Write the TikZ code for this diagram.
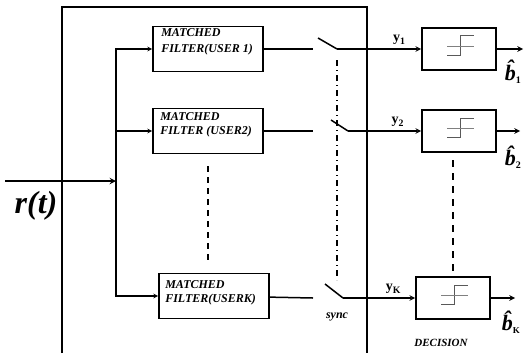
\documentclass[tikz,border=0pt]{standalone}
\usepackage{fontspec}
\setmainfont{Liberation Serif}
\begin{document}
\begin{tikzpicture}[x=1pt,y=-1pt,>=stealth,
  mf/.style={draw, line width=1.8pt, minimum width=110pt, minimum height=45pt, inner sep=0pt},
  mftxt/.style={anchor=north west, align=left, inner sep=0pt, font=\fontsize{12}{13.5}\selectfont\bfseries\itshape},
  dec/.style={draw, line width=1.8pt, minimum width=74pt, minimum height=42pt, inner sep=0pt,
    path picture={
      \draw[gray!70!black, line width=1pt] ([shift={(-12pt,-6pt)}]path picture bounding box.center) -- ++(13pt,0) -- ++(0,19pt) -- ++(14pt,0);
      \draw[gray, line width=1pt] ([shift={(-12pt,3pt)}]path picture bounding box.center) -- ++(27pt,0);}},
  wire/.style={line width=1.5pt},
  ylab/.style={font=\fontsize{14}{14}\selectfont\bfseries},
  bhat/.style={font=\fontsize{22}{22}\selectfont\bfseries\itshape}]
\useasboundingbox (0,0) rectangle (526,353);
% frame
\draw[line width=1.6pt] (62,353) |- (367,7) -- (367,353);
% input
\coordinate (in) at (5,181);
\coordinate (bus) at (116,181);
\node[font=\fontsize{32}{32}\selectfont\bfseries\itshape] (rt) at (36,206) {r(t)};
\draw[->, line width=1.8pt] (in) -- (bus);
% matched filters
\node[mf, label={[mftxt, xshift=9pt, yshift=-3pt]north west:{MATCHED\\[2pt]FILTER(USER 1)}}] (mf1) at (208,49) {};
\node[mf, label={[mftxt, xshift=8pt, yshift=-5pt]north west:{MATCHED\\FILTER (USER2)}}] (mf2) at (208,131) {};
\node[mf, label={[mftxt, xshift=7pt, yshift=-8pt]north west:{MATCHED\\FILTER(USERK)}}] (mfk) at (214,296) {};
\draw[->, line width=1.1pt] (bus) |- (mf1);
\draw[->, line width=1.1pt] (bus) |- (mf2);
\draw[->, line width=1.1pt] (bus) |- (mfk);
\draw[dashed, line width=1.2pt, dash pattern=on 6pt off 5pt] (208,166) -- (208,262);
% decision devices
\node[dec] (dec1) at (459,49) {};
\node[dec] (dec2) at (459,131) {};
\node[dec] (deck) at (453,298) {};
\draw[dashed, line width=1.6pt, dash pattern=on 7pt off 6pt] (453,160) -- (deck);
% switches
\coordinate (a1) at (313,49);  \coordinate (b1) at (318,38);  \coordinate (c1) at (337,49);
\coordinate (a2) at (313,131); \coordinate (b2) at (331,120); \coordinate (c2) at (348,131);
\coordinate (ak) at (313,298); \coordinate (bk) at (325,284); \coordinate (ck) at (343,298);
\draw[wire] (mf1) -- (a1);
\draw[wire] (b1) -- (c1);
\draw[->, wire] (c1) -- (dec1) node[pos=0.74, above, ylab] {y\textsubscript{1}};
\draw[wire] (mf2) -- (a2);
\draw[wire] (b2) -- (c2);
\draw[->, wire] (c2) -- (dec2) node[pos=0.68, above, ylab] {y\textsubscript{2}};
\draw[wire] (mfk) -- (ak);
\draw[wire] (bk) -- (ck);
\draw[->, wire] (ck) -- (deck) node[pos=0.7, above, ylab] {y\textsubscript{K}};
% sync line
\draw[line width=1.5pt, dash pattern=on 6pt off 4pt on 1pt off 4pt] (337,60) -- (337,280);
\node[font=\fontsize{12}{12}\selectfont\bfseries\itshape] (sync) at (337,317) {sync};
% outputs
\coordinate (o1) at (523,49);
\coordinate (o2) at (520,131);
\coordinate (ok) at (515,298);
\draw[->, wire] (dec1) -- (o1);
\draw[->, wire] (dec2) -- (o2);
\draw[->, wire] (deck) -- (ok);
\node[bhat] (b1hat) at (513,72) {\^{b}\textsubscript{\upshape\fontsize{10}{10}\selectfont 1}};
\node[bhat] (b2hat) at (513,157) {\^{b}\textsubscript{\upshape\fontsize{10}{10}\selectfont 2}};
\node[bhat] (bkhat) at (511,322) {\^{b}\textsubscript{\upshape\fontsize{9}{9}\selectfont K}};
\node[font=\fontsize{11}{11}\selectfont\bfseries\itshape] (decision) at (441,343) {DECISION};
\end{tikzpicture}
\end{document}
